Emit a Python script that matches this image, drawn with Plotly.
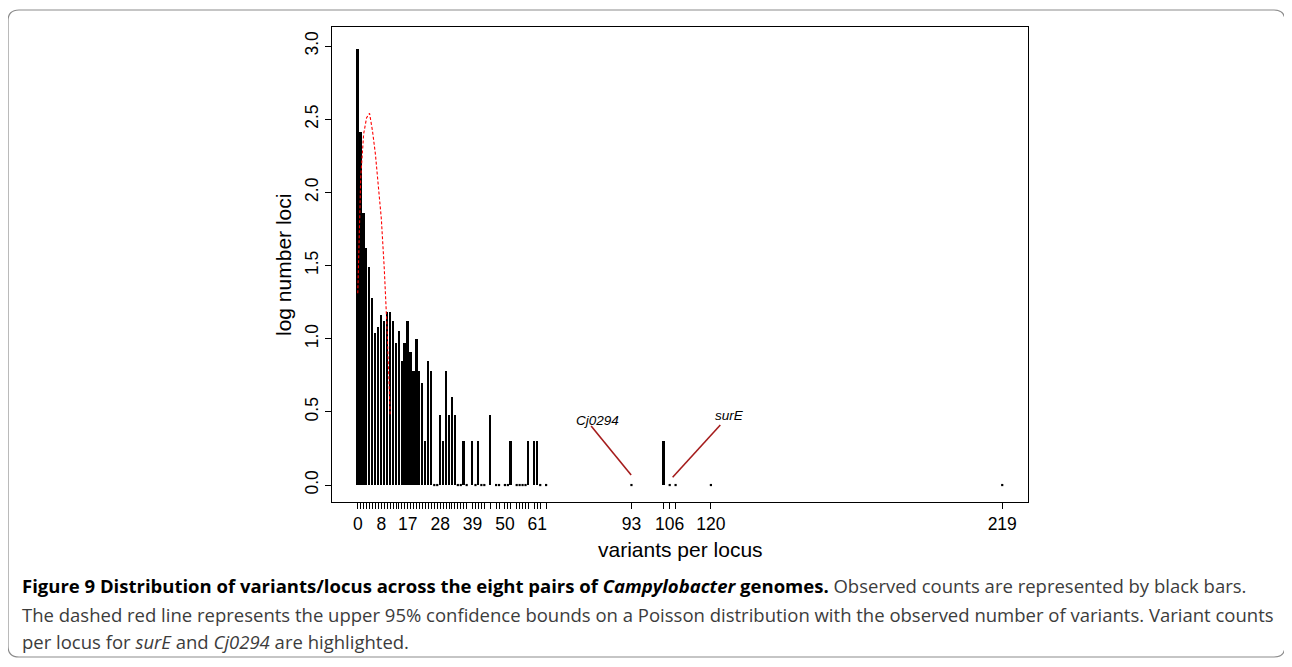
import plotly.graph_objects as go

# ---- data ----
variants = [0, 1, 2, 3, 4, 5, 6, 7, 8, 9, 10, 11, 12, 13, 14, 15, 16, 17, 18, 19,
            20, 21, 22, 23, 24, 25, 26, 27, 28, 29, 30, 31, 32, 33, 34, 35, 36, 37,
            39, 40, 41, 42, 43, 45, 47, 48, 50, 51, 52, 54, 55, 56, 57, 58, 60, 61,
            62, 64, 93, 104, 106, 108, 120, 219]
log_loci = [2.98, 2.41, 1.86, 1.62, 1.49, 1.28, 1.04, 1.08, 1.16, 1.12, 1.18, 1.18,
            1.12, 0.97, 1.05, 0.85, 0.97, 1.12, 0.91, 0.78, 1.0, 0.78, 0.70, 0.30,
            0.85, 0.78, 0.0, 0.0, 0.48, 0.30, 0.78, 0.48, 0.60, 0.48, 0.0, 0.0,
            0.30, 0.0, 0.30, 0.0, 0.30, 0.0, 0.0, 0.48, 0.0, 0.0, 0.0, 0.0, 0.30,
            0.0, 0.0, 0.0, 0.0, 0.30, 0.30, 0.30, 0.0, 0.0, 0.0, 0.30, 0.0, 0.0,
            0.0, 0.0]

poisson_k = [0, 1, 2, 3, 4, 5, 6, 7, 8, 9, 10, 11]
poisson_upper = [1.31, 2.10, 2.40, 2.51, 2.54, 2.42, 2.26, 2.05, 1.82, 1.48, 1.05, 0.48]

x_labelled = [0, 8, 17, 28, 39, 50, 61, 93, 106, 120, 219]
y_ticks = [0.0, 0.5, 1.0, 1.5, 2.0, 2.5, 3.0]

highlights = ["Cj0294", "surE"]
highlight_text_pos = [(81.5, 0.444), (126.2, 0.478)]
highlight_line = [((79.3, 0.403), (92.9, 0.068)), ((123.2, 0.41), (107.0, 0.053))]

# ---- layout geometry (pixels, page coordinates) ----
OFF = 8                      # default body margin of the html page
W, H = 1292 - OFF, 667 - OFF
L, R, T, B = 332, 1028, 27, 502


def px(xp):
    return (xp - L) / (R - L)


def py(yp):
    return (B - yp) / (B - T)


AXF = "Liberation Sans, Arial, sans-serif"

fig = go.Figure()

fig.add_trace(go.Bar(x=variants, y=log_loci, width=0.6,
                     marker=dict(color="black", line=dict(width=0)),
                     showlegend=False, hoverinfo="x+y"))

zx = [v for v, l in zip(variants, log_loci) if l == 0]
zy = [l for l in log_loci if l == 0]
fig.add_trace(go.Scatter(x=zx, y=zy, mode="markers",
                         marker=dict(symbol="square", size=2.2, color="black",
                                     line=dict(width=0)),
                         showlegend=False))

fig.add_trace(go.Scatter(x=poisson_k, y=poisson_upper, mode="lines",
                         line=dict(color="red", width=1.1, dash="3px,2px"),
                         showlegend=False))

ticktext = [str(v) if v in x_labelled else "" for v in variants]

fig.update_xaxes(range=[-8.76, 227.76], tickvals=variants, ticktext=ticktext,
                 ticks="outside", ticklen=6, tickwidth=1, tickcolor="black",
                 showline=True, linecolor="black", linewidth=1, mirror=True,
                 showgrid=False, zeroline=False,
                 tickfont=dict(family=AXF, size=17.5, color="black"))
fig.update_yaxes(range=[-0.116, 3.13], tickvals=y_ticks,
                 ticktext=["%.1f" % v for v in y_ticks], tickangle=-90,
                 ticks="outside", ticklen=6, tickwidth=1, tickcolor="black",
                 showline=True, linecolor="black", linewidth=1, mirror=True,
                 showgrid=False, zeroline=False,
                 tickfont=dict(family=AXF, size=17.5, color="black"))

shapes = []
for (a, b) in highlight_line:
    shapes.append(dict(type="line", xref="x", yref="y", x0=a[0], y0=a[1],
                       x1=b[0], y1=b[1], line=dict(color="#a51c1c", width=1.6)))

# rounded outer frame
x0, y0, x1, y1, r = 8, 10, 1285, 657, 11
path = (f"M {px(x0 + r)},{py(y0)} L {px(x1 - r)},{py(y0)} "
        f"Q {px(x1)},{py(y0)} {px(x1)},{py(y0 + r)} L {px(x1)},{py(y1 - r)} "
        f"Q {px(x1)},{py(y1)} {px(x1 - r)},{py(y1)} L {px(x0 + r)},{py(y1)} "
        f"Q {px(x0)},{py(y1)} {px(x0)},{py(y1 - r)} L {px(x0)},{py(y0 + r)} "
        f"Q {px(x0)},{py(y0)} {px(x0 + r)},{py(y0)} Z")
shapes.append(dict(type="path", xref="paper", yref="paper", path=path,
                   line=dict(color="#8c8c8c", width=1.2)))

annotations = []
for name, (tx, ty) in zip(highlights, highlight_text_pos):
    annotations.append(dict(x=tx, y=ty, xref="x", yref="y", text=f"<i>{name}</i>",
                            showarrow=False, xanchor="center", yanchor="middle",
                            font=dict(family=AXF, size=13.5, color="black")))

annotations.append(dict(x=px(283), y=py(265), xref="paper", yref="paper",
                        text="log number loci", textangle=-90, showarrow=False,
                        xanchor="center", yanchor="middle",
                        font=dict(family=AXF, size=21, color="black")))
annotations.append(dict(x=px(680), y=py(549), xref="paper", yref="paper",
                        text="variants per locus", showarrow=False,
                        xanchor="center", yanchor="middle",
                        font=dict(family=AXF, size=21, color="black")))

CF = "Open Sans, sans-serif"
grey = "#3c3c3c"
cap_lines = [
    ("<b>Figure 9 Distribution of variants/locus across the eight pairs of "
     "<i>Campylobacter</i> genomes.</b> "
     f"<span style='color:{grey}'>Observed counts are represented by black bars.</span>", 585),
    (f"<span style='color:{grey}'>The dashed red line represents the upper 95% confidence "
     "bounds on a Poisson distribution with the observed number of variants. "
     "Variant counts</span>", 614),
    (f"<span style='color:{grey}'>per locus for <i>surE</i> and <i>Cj0294</i> are "
     "highlighted.</span>", 641),
]
for txt, yy in cap_lines:
    annotations.append(dict(x=px(20), y=py(yy), xref="paper", yref="paper",
                            text=txt, showarrow=False, xanchor="left",
                            yanchor="middle",
                            font=dict(family=CF, size=18.5, color="black")))

fig.update_layout(width=W, height=H,
                  margin=dict(l=L - OFF, r=W - (R - OFF), t=T - OFF,
                              b=H - (B - OFF), pad=0),
                  paper_bgcolor="white", plot_bgcolor="white",
                  bargap=0, shapes=shapes, annotations=annotations,
                  showlegend=False)

fig.write_html("out.html")
